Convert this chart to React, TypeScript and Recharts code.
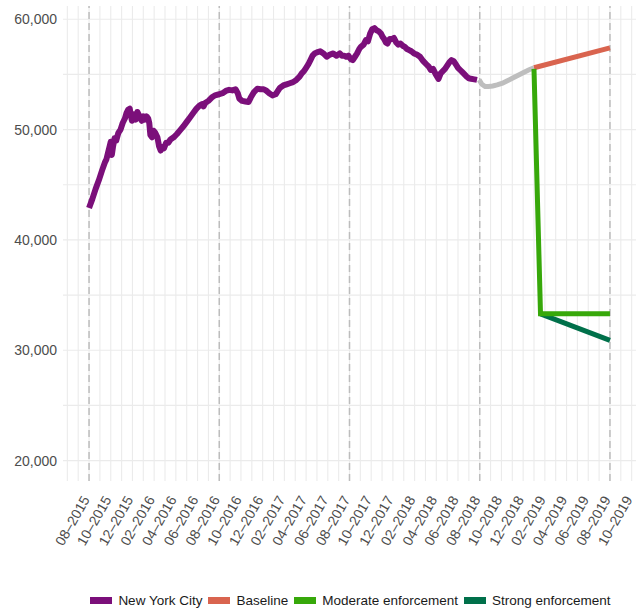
import { LineChart, Line, XAxis, YAxis, CartesianGrid, ReferenceLine, Legend } from 'recharts'

// x = months since 01-2015 (7 = 08-2015)
const nycX = [
  7, 7.3, 7.6, 7.9, 8.2, 8.45, 8.6, 8.75, 8.9, 9, 9.1, 9.2, 9.35, 9.5, 9.7, 9.9,
  10.1, 10.3, 10.45, 10.6, 10.75, 10.85, 10.95, 11.05, 11.15, 11.3, 11.45, 11.55, 11.7, 11.85,
  12, 12.15, 12.3, 12.45, 12.55, 12.65, 12.8, 12.95, 13.1, 13.3, 13.45, 13.6, 13.75, 13.9,
  14.1, 14.3, 14.5, 14.8, 15.1, 15.4, 15.7, 16, 16.3, 16.6, 16.9, 17.2, 17.4, 17.55, 17.7,
  18, 18.3, 18.6, 19, 19.3, 19.6, 19.9, 20.2, 20.5, 20.7, 20.85, 21.1, 21.4, 21.7, 21.9,
  22.2, 22.5, 22.8, 23.1, 23.3, 23.6, 23.9, 24.2, 24.4, 24.6, 24.9, 25.2, 25.5, 25.8,
  26.1, 26.4, 26.6, 26.8, 27, 27.2, 27.4, 27.6, 27.8, 28, 28.3, 28.6, 28.9, 29.2, 29.5,
  29.8, 30.1, 30.3, 30.5, 30.7, 30.9, 31.1, 31.3, 31.5, 31.7, 31.9, 32.05, 32.3, 32.5, 32.7,
  32.9, 33.1, 33.3, 33.5, 33.7, 33.9, 34.05, 34.2, 34.35, 34.5, 34.7, 34.9, 35.1, 35.3,
  35.5, 35.7, 35.9, 36.1, 36.3, 36.5, 36.7, 36.95, 37.2, 37.5, 37.8, 38.1, 38.3, 38.5,
  38.7, 38.95,
]
const nycY = [
  42900, 43700, 44600, 45400, 46300, 47000, 47300, 47900, 48500, 48900, 47700, 48400, 49200, 49000, 49700, 50000,
  50600, 51000, 51500, 51800, 51900, 51300, 50800, 51400, 51200, 50900, 51600, 51400, 51100, 50800,
  51200, 50900, 51200, 51000, 50600, 49500, 49300, 49900, 49700, 49300, 48500, 48100, 48400, 48300,
  48800, 48800, 49100, 49300, 49600, 49950, 50300, 50700, 51100, 51500, 51900, 52200, 52300, 52100, 52400,
  52600, 52900, 53100, 53200, 53300, 53500, 53600, 53550, 53650, 53300, 52800, 52600, 52550, 52500, 52900,
  53400, 53700, 53650, 53650, 53550, 53300, 53100, 53200, 53500, 53800, 54000, 54100, 54200, 54300,
  54500, 54800, 55100, 55300, 55600, 55900, 56300, 56700, 56900, 57000, 57100, 56900, 56600, 56800,
  56900, 56700, 56900, 56700, 56700, 56600, 56700, 56400, 56300, 56600, 56900, 57300, 57500, 57700, 58100,
  58000, 58700, 59100, 59200, 59000, 58900, 58700, 58400, 58200, 57900, 57800, 58200, 58200, 58300,
  57900, 57700, 57800, 57600, 57500, 57300, 57200, 57100, 56900, 56800, 56600, 56200, 55900, 55700,
  55400, 55500,
]
// the tail of the nyc series
const nycTailX = [39.2, 39.4, 39.6, 39.8, 40, 40.2, 40.4, 40.6, 40.8, 41, 41.2, 41.4, 41.6, 41.8, 42, 42.2, 42.5, 42.75, 42.95]
const nycTailY = [55000, 54600, 55100, 55300, 55500, 55800, 56100, 56300, 56200, 55900, 55600, 55400, 55200, 55000, 54800, 54650, 54600, 54550, 54500]

const gapX = [42.95, 43.2, 43.5, 43.8, 44.2, 44.6, 45.1, 45.5, 46, 46.5, 47, 47.5, 48]
const gapY = [54500, 54100, 53900, 53900, 53950, 54050, 54200, 54400, 54650, 54900, 55150, 55400, 55600]

const baselineX = [48, 55]
const baselineY = [55600, 57400]
const moderateX = [48, 48.6, 55]
const moderateY = [55500, 33300, 33300]
const strongX = [48.6, 55]
const strongY = [33300, 30900]

const xTicks = [7, 9, 11, 13, 15, 17, 19, 21, 23, 25, 27, 29, 31, 33, 35, 37, 39, 41, 43, 45, 47, 49, 51, 53, 55, 57]
const yTicks = [20000, 30000, 40000, 50000, 60000]
const yGrid = [20000, 25000, 30000, 35000, 40000, 45000, 50000, 55000, 60000]
const monthGrid = Array.from({ length: 53 }, (_, i) => i + 5)
const augusts = [7, 19, 31, 43, 55]

const legendItems = [
  { name: 'New York City', color: '#7b0f7a' },
  { name: 'Baseline', color: '#d9644f' },
  { name: 'Moderate enforcement', color: '#37a80a' },
  { name: 'Strong enforcement', color: '#00704a' },
]

const zip = (xs: number[], ys: number[]) => xs.map((x, i) => ({ x, y: ys[i] }))

const fmtMonth = (v: number) => {
  const m = (v % 12) + 1
  const yr = 2015 + Math.floor(v / 12)
  return `${String(m).padStart(2, '0')}–${yr}`
}

const XTick = ({ x, y, payload }: any) => {
  const tx = x - 3
  const ty = y
  return (
    <text
      x={tx}
      y={ty}
      transform={`rotate(-60 ${tx} ${ty})`}
      textAnchor="end"
      dy="0.35em"
      fill="#4d4d4d"
      fontSize={14}
    >
      {fmtMonth(payload.value)}
    </text>
  )
}

const LegendContent = () => (
  <div style={{ display: 'flex', justifyContent: 'center', alignItems: 'center', height: 18, paddingLeft: 70, paddingRight: 5 }}>
    {legendItems.map((it, i) => (
      <div key={it.name} style={{ display: 'flex', alignItems: 'center', marginRight: i < legendItems.length - 1 ? 6 : 0 }}>
        <div style={{ width: 22, height: 7, background: it.color, marginRight: 6 }} />
        <span style={{ fontSize: 13.5, color: '#1a1a1a' }}>{it.name}</span>
      </div>
    ))}
  </div>
)

export default function App() {
  return (
    <div style={{ position: 'absolute', left: 0, top: 0, background: '#fff', fontFamily: 'Liberation Sans, Arial, sans-serif' }}>
      <LineChart width={641} height={609} margin={{ top: 6, right: 5, bottom: 0, left: 0 }}>
        <CartesianGrid stroke="#ebebeb" strokeWidth={1.1} horizontalValues={yGrid} verticalValues={monthGrid} />
        <XAxis
          type="number"
          dataKey="x"
          domain={[4.6, 57.4]}
          ticks={xTicks}
          interval={0}
          allowDataOverflow
          axisLine={false}
          tickLine={false}
          tickSize={0}
          tickMargin={16}
          height={110}
          tick={<XTick />}
        />
        <YAxis
          type="number"
          dataKey="y"
          domain={[18150, 61200]}
          ticks={yTicks}
          allowDataOverflow
          axisLine={false}
          tickLine={false}
          tickSize={0}
          tickMargin={6}
          width={63}
          tick={{ fill: '#4d4d4d', fontSize: 14 }}
          tickFormatter={(v: number) => v.toLocaleString('en-US')}
        />
        {augusts.map((m) => (
          <ReferenceLine key={m} x={m} stroke="#bdbdbd" strokeWidth={1.5} strokeDasharray="7 4" />
        ))}
        <Line data={zip(gapX, gapY)} dataKey="y" stroke="#bebebe" strokeWidth={5} dot={false} isAnimationActive={false} legendType="none" />
        <Line data={zip(nycX.concat(nycTailX), nycY.concat(nycTailY))} dataKey="y" name="New York City" stroke="#7b0f7a" strokeWidth={6} strokeLinejoin="round" dot={false} isAnimationActive={false} />
        <Line data={zip(baselineX, baselineY)} dataKey="y" name="Baseline" stroke="#d9644f" strokeWidth={5} dot={false} isAnimationActive={false} />
        <Line data={zip(strongX, strongY)} dataKey="y" name="Strong enforcement" stroke="#00704a" strokeWidth={5} dot={false} isAnimationActive={false} />
        <Line data={zip(moderateX, moderateY)} dataKey="y" name="Moderate enforcement" stroke="#37a80a" strokeWidth={5} dot={false} isAnimationActive={false} />
        <Legend verticalAlign="bottom" content={<LegendContent />} wrapperStyle={{ height: 18 }} />
      </LineChart>
    </div>
  )
}
